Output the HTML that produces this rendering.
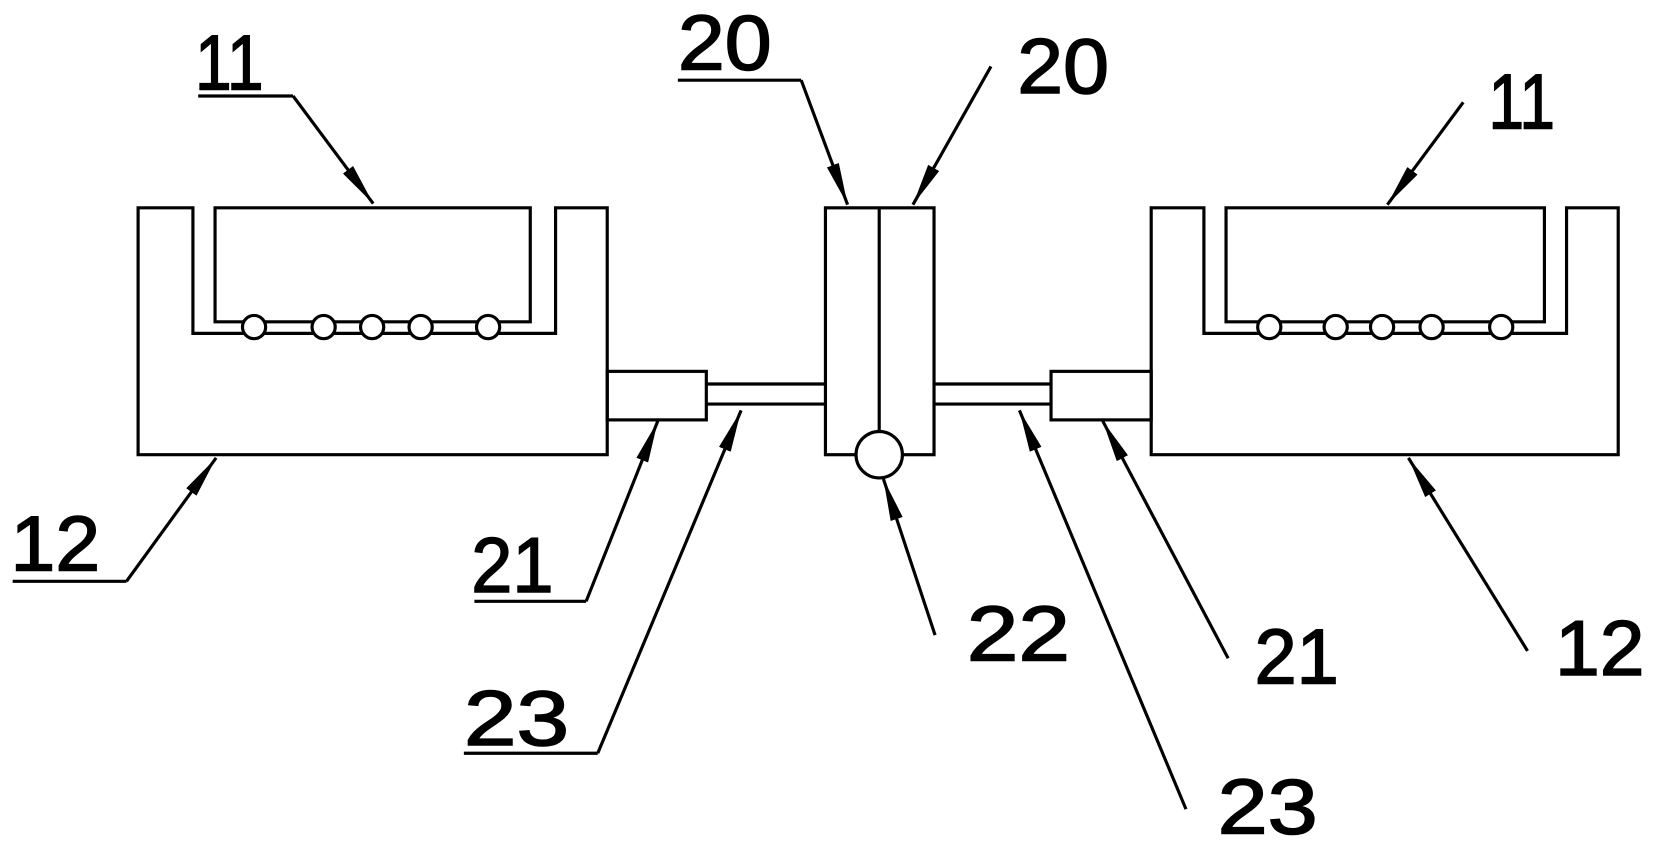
<!DOCTYPE html>
<html><head><style>html,body{margin:0;padding:0;background:#fff}svg{display:block}</style></head>
<body>
<svg width="1653" height="844" viewBox="0 0 1568 800" preserveAspectRatio="none" xmlns="http://www.w3.org/2000/svg">
<defs>
<marker id="a" viewBox="0 0 40 12" refX="40" refY="6" markerWidth="40" markerHeight="12" markerUnits="userSpaceOnUse" orient="auto"><path d="M0,0 L40,6 L0,12 Z" fill="#000"/></marker>
</defs>
<g fill="none" stroke="#000" stroke-width="3">
<path d="M131,197 H183 V316 H527 V197 H576 V431 H131 Z"/>
<path d="M204,197 H503 V305 H204 Z" fill="#fff"/>
<g fill="#fff"><circle cx="241" cy="310" r="11"/><circle cx="307" cy="310" r="11"/><circle cx="353" cy="310" r="11"/><circle cx="399" cy="310" r="11"/><circle cx="463" cy="310" r="11"/></g>
<rect x="576" y="352" width="94" height="46"/>
<path d="M670,364 H783 M670,383 H783"/>
<rect x="783" y="197" width="103" height="234"/>
<path d="M834,197 V409"/>
<circle cx="834" cy="431" r="22" fill="#fff"/>
<path d="M886,364 H997 M886,383 H997"/>
<rect x="997" y="352" width="95" height="46"/>
<path d="M1092,197 H1142 V316 H1486 V197 H1535 V431 H1092 Z"/>
<path d="M1163,197 H1465 V305 H1163 Z" fill="#fff"/>
<g fill="#fff"><circle cx="1204" cy="310" r="11"/><circle cx="1267" cy="310" r="11"/><circle cx="1311" cy="310" r="11"/><circle cx="1358" cy="310" r="11"/><circle cx="1424" cy="310" r="11"/></g>
</g>
<g fill="none" stroke="#000" stroke-width="3">
<path d="M188,91 H278"/><path d="M278,91 L354,193" marker-end="url(#a)"/>
<path d="M12,551 H120"/><path d="M120,551 L205,434" marker-end="url(#a)"/>
<path d="M450,570 H556"/><path d="M556,570 L624,399" marker-end="url(#a)"/>
<path d="M440,714 H567"/><path d="M567,714 L703,389" marker-end="url(#a)"/>
<path d="M643,76 H760"/><path d="M760,76 L804,194" marker-end="url(#a)"/>
<path d="M940,63 L866,194" marker-end="url(#a)"/>
<path d="M1388,97 L1316,194" marker-end="url(#a)"/>
<path d="M887,602 L838,454" marker-end="url(#a)"/>
<path d="M1165,624 L1046,399" marker-end="url(#a)"/>
<path d="M1125,767 L967,389" marker-end="url(#a)"/>
<path d="M1449,617 L1336,434" marker-end="url(#a)"/>
</g>
<g font-family="Liberation Sans, sans-serif" font-size="74" fill="#000" stroke="#000" stroke-width="1.5">
<text x="185" y="85" textLength="65" lengthAdjust="spacingAndGlyphs">11</text>
<text x="10" y="541" textLength="85" lengthAdjust="spacingAndGlyphs">12</text>
<text x="447" y="561" textLength="78" lengthAdjust="spacingAndGlyphs">21</text>
<text x="440" y="706" textLength="100" lengthAdjust="spacingAndGlyphs">23</text>
<text x="643" y="66" textLength="89" lengthAdjust="spacingAndGlyphs">20</text>
<text x="965" y="88" textLength="87" lengthAdjust="spacingAndGlyphs">20</text>
<text x="1412" y="122" textLength="63" lengthAdjust="spacingAndGlyphs">11</text>
<text x="917" y="626" textLength="98" lengthAdjust="spacingAndGlyphs">22</text>
<text x="1190" y="648" textLength="80" lengthAdjust="spacingAndGlyphs">21</text>
<text x="1155" y="790" textLength="95" lengthAdjust="spacingAndGlyphs">23</text>
<text x="1475" y="640" textLength="85" lengthAdjust="spacingAndGlyphs">12</text>
</g>
</svg>
</body></html>
